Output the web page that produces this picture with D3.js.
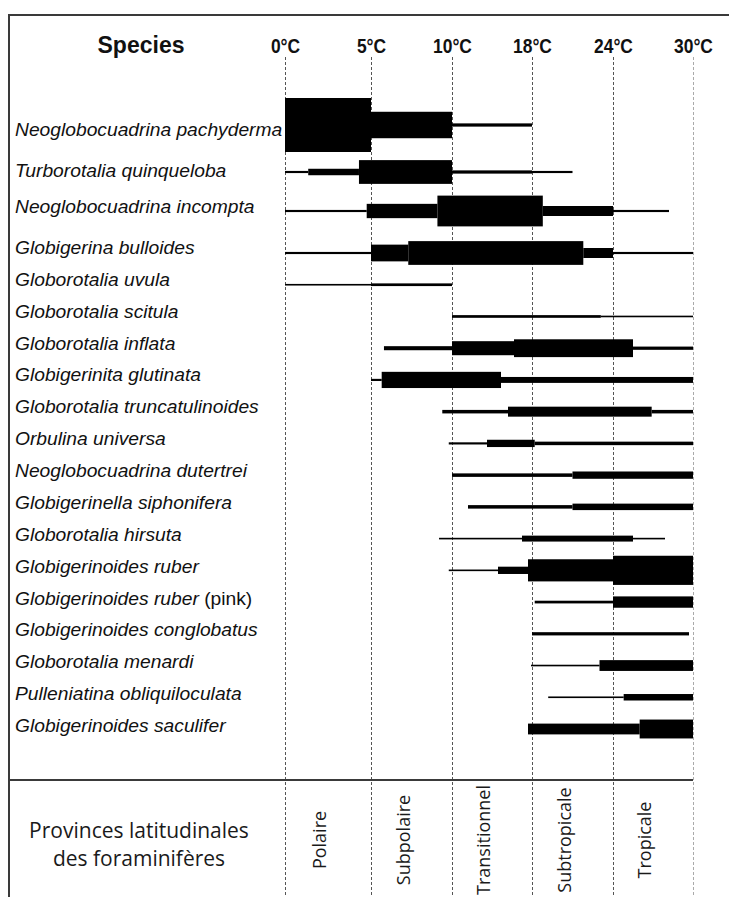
<!DOCTYPE html>
<html><head><meta charset="utf-8">
<script src="https://cdn.jsdelivr.net/npm/d3@7"></script>
<style>
html,body{margin:0;padding:0;background:#fff;}
svg{display:block;}
</style></head>
<body>
<script>
// ---- data ----
const tempTicks = [0, 5, 10, 18, 24, 30];
const tickLabels = ["0°C", "5°C", "10°C", "18°C", "24°C", "30°C"];
const provinces = ["Polaire", "Subpolaire", "Transitionnel", "Subtropicale", "Tropicale"];
const species = [
  "Neoglobocuadrina pachyderma",
  "Turborotalia quinqueloba",
  "Neoglobocuadrina incompta",
  "Globigerina bulloides",
  "Globorotalia uvula",
  "Globorotalia scitula",
  "Globorotalia inflata",
  "Globigerinita glutinata",
  "Globorotalia truncatulinoides",
  "Orbulina universa",
  "Neoglobocuadrina dutertrei",
  "Globigerinella siphonifera",
  "Globorotalia hirsuta",
  "Globigerinoides ruber",
  "Globigerinoides ruber (pink)",
  "Globigerinoides conglobatus",
  "Globorotalia menardi",
  "Pulleniatina obliquiloculata",
  "Globigerinoides saculifer"
];
// each segment: [from °C, to °C, relative abundance (0-100)]
const ranges = [
  [[0, 5, 100], [5, 10, 49], [10, 18, 6]],
  [[0, 1.35, 4], [1.35, 4.3, 12], [4.3, 10, 44], [10, 18, 6], [18, 21, 4]],
  [[0, 4.75, 4], [4.75, 9.1, 26.5], [9.1, 18.8, 57], [18.8, 24, 18.5], [24, 28.2, 4]],
  [[0, 5, 4], [5, 7.3, 31], [7.3, 21.8, 44], [21.8, 24, 18.5], [24, 30, 4]],
  [[0, 5, 3], [5, 10, 5]],
  [[10, 23.1, 5], [23.1, 30, 3]],
  [[5.8, 10, 7.5], [10, 16.2, 26], [16.2, 25.5, 33], [25.5, 30, 6]],
  [[5, 5.66, 4], [5.66, 14.9, 30], [14.9, 30, 11]],
  [[9.4, 15.6, 6.5], [15.6, 26.9, 18.5], [26.9, 30, 6.5]],
  [[9.8, 13.5, 4], [13.5, 18.2, 13.5], [18.2, 30, 6.5]],
  [[10, 21, 6.5], [21, 30, 13.5]],
  [[11.6, 21, 6.5], [21, 30, 12]],
  [[9.2, 17, 3], [17, 25.5, 11], [25.5, 27.9, 3]],
  [[9.8, 14.6, 3], [14.6, 17.6, 13.5], [17.6, 24, 41], [24, 30, 54]],
  [[18.2, 24, 5], [24, 30, 21]],
  [[18, 29.7, 6]],
  [[17.9, 23, 3], [23, 30, 20]],
  [[19.2, 24.8, 3], [24.8, 30, 12]],
  [[17.6, 26, 20], [26, 30, 35]]
];

// ---- layout ----
const W = 729, H = 897;
const svg = d3.select("body").append("svg").attr("width", W).attr("height", H);

const x = d3.scaleLinear().domain(tempTicks).range([285, 371, 452, 532, 613, 693]);
const yBar = d3.scaleLinear().domain([0, 1, 2, 3, species.length - 1]).range([125, 172, 211, 253, 729]);
const yLab = d3.scaleLinear().domain([0, 1, 2, 3, species.length - 1]).range([136, 177, 213, 254, 732]);
const thick = d3.scaleLinear().domain([0, 100]).range([0, 54]);

// gridlines
svg.append("g").selectAll("line").data(tempTicks).join("line")
  .attr("x1", d => Math.round(x(d)) + 0.5).attr("x2", d => Math.round(x(d)) + 0.5)
  .attr("y1", 57).attr("y2", H)
  .attr("stroke", (d, i) => i === tempTicks.length - 1 ? "#aaa" : "#555")
  .attr("stroke-width", 1)
  .attr("stroke-dasharray", "3,2");

// frame
const frame = svg.append("g").attr("stroke", "#3a3a3a").attr("stroke-width", 2);
frame.append("line").attr("x1", 8).attr("x2", W).attr("y1", 15).attr("y2", 15);
frame.append("line").attr("x1", 9).attr("x2", 9).attr("y1", 14).attr("y2", H);
frame.append("line").attr("x1", 8).attr("x2", 693).attr("y1", 780).attr("y2", 780);

// top axis (temperature)
const axis = svg.append("g").attr("transform", "translate(0,56)")
  .call(d3.axisTop(x).tickValues(tempTicks).tickSize(0).tickPadding(3)
    .tickFormat((d, i) => tickLabels[i]));
axis.select(".domain").remove();
axis.selectAll("text")
  .attr("font-family", "'Liberation Sans', Arial, sans-serif")
  .attr("font-size", 21).attr("font-weight", "bold").attr("fill", "#111")
  .attr("transform", "scale(0.83,1)");

// header
svg.append("text").attr("x", 141).attr("y", 53).attr("text-anchor", "middle")
  .attr("font-family", "'Liberation Sans', Arial, sans-serif")
  .attr("font-size", 23).attr("font-weight", "bold").attr("fill", "#111")
  .text("Species");

// bars
svg.append("g").selectAll("g").data(ranges).join("g")
  .selectAll("rect").data((d, i) => d.map(s => ({ s, i }))).join("rect")
  .attr("x", d => x(d.s[0]))
  .attr("width", d => x(d.s[1]) - x(d.s[0]))
  .attr("y", d => yBar(d.i) - thick(d.s[2]) / 2)
  .attr("height", d => thick(d.s[2]))
  .attr("fill", "#000");

// species labels
const lab = svg.append("g").selectAll("g").data(species).join("g")
  .attr("transform", (d, i) => `translate(15,${yLab(i)}) scale(1.1,1)`);
lab.append("text")
  .attr("font-family", "'Liberation Sans', Arial, sans-serif")
  .attr("font-size", 17.5).attr("fill", "#111")
  .each(function (d) {
    const m = d.match(/^(.*?)(\s\(.*\))?$/);
    const t = d3.select(this);
    t.append("tspan").attr("font-style", "italic").text(m[1]);
    if (m[2]) t.append("tspan").attr("font-style", "normal").text(m[2]);
  });

// bottom section
const bt = svg.append("text").attr("text-anchor", "middle")
  .attr("font-family", "'Open Sans', sans-serif").attr("font-size", 21).attr("fill", "#1a1a1a");
bt.append("tspan").attr("x", 139).attr("y", 838).text("Provinces latitudinales");
bt.append("tspan").attr("x", 139).attr("y", 866).text("des foraminifères");

svg.append("g").selectAll("text").data(provinces).join("text")
  .attr("transform", (d, i) => `translate(${(x(tempTicks[i]) + x(tempTicks[i + 1])) / 2 - 8},840) rotate(-90)`)
  .attr("text-anchor", "middle").attr("dy", "0.35em")
  .attr("font-family", "'Open Sans', sans-serif").attr("font-size", 18).attr("fill", "#1a1a1a")
  .text(d => d);
</script>
</body></html>
